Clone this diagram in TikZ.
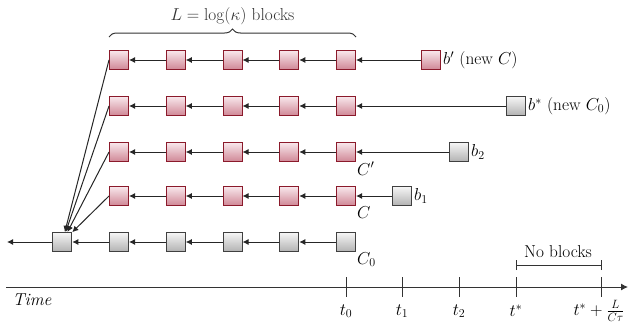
\documentclass[tikz,border=0pt]{standalone}
\usetikzlibrary{arrows.meta,decorations.pathreplacing,calc}
\definecolor{redb}{HTML}{8B1A2B}
\definecolor{redtop}{HTML}{F8E8EC}
\definecolor{redbot}{HTML}{D08796}
\definecolor{graytop}{HTML}{F6F6F6}
\definecolor{graybot}{HTML}{B2B2B2}
\tikzset{
  blk/.style={minimum size=19pt, inner sep=0pt, line width=1pt},
  redblk/.style={blk, draw=redb, top color=redtop, bottom color=redbot},
  grayblk/.style={blk, draw=black!75, top color=graytop, bottom color=graybot},
  link/.style={-{Latex[length=6pt,width=6pt]}, line width=1pt, draw=black!85},
  lbl/.style={inner sep=1pt},
  axisline/.style={line width=1pt, draw=black!80},
}
\begin{document}
\begin{tikzpicture}[x=1pt,y=-1pt,font=\LARGE]
\useasboundingbox (0,0) rectangle (628,335);
% red rows
\foreach \r/\y in {1/60,2/106,3/152,4/196}{
  \foreach \i in {1,...,5}{
    \node[redblk] (r\r-\i) at ({62.25+56.75*\i},\y) {};
  }
  \foreach \i [evaluate=\i as \j using int(\i-1)] in {2,...,5}{
    \draw[link] (r\r-\i) -- (r\r-\j);
  }
}
% gray base row
\foreach \i in {0,...,5}{
  \node[grayblk] (g-\i) at ({62.25+56.75*\i},242) {};
}
\foreach \i [evaluate=\i as \j using int(\i-1)] in {1,...,5}{
  \draw[link] (g-\i) -- (g-\j);
}
\coordinate (gl) at (7,242);
\draw[link] (g-0) -- (gl);
% tips of each row
\node[redblk] (bp) at (431,60) {};
\node[grayblk] (bs) at (516,106) {};
\node[grayblk] (b2) at (459,152) {};
\node[grayblk] (b1) at (402,196) {};
\draw[link] (bp) -- (r1-5);
\draw[link] (bs) -- (r2-5);
\draw[link] (b2) -- (r3-5);
\draw[link] (b1) -- (r4-5);
\node[lbl,anchor=west] at ($(bp.east)+(1,0)$) {$b'$ (new $C$)};
\node[lbl,anchor=west] at ($(bs.east)+(1,0)$) {$b^*$ (new $C_0$)};
\node[lbl,anchor=west] at ($(b2.east)+(1,0)$) {$b_2$};
\node[lbl,anchor=west] at ($(b1.east)+(1,0)$) {$b_1$};
\node[lbl,anchor=north west] (cp) at ($(r3-5.south east)+(0,-1)$) {$C'$};
\node[lbl,anchor=north west] (cc) at ($(r4-5.south east)+(0,-1)$) {$C$};
\node[lbl,anchor=north west] (c0) at ($(g-5.south east)+(0,-1)$) {$C_0$};
% links from red chains to the base block
\foreach \r in {1,...,4}{
  \draw[link] (r\r-1.west) -- (g-0);
}
% brace
\coordinate (brl) at (109,37);
\coordinate (brr) at (356,37);
\draw[decorate,decoration={brace,amplitude=8pt},line width=1pt,black!80] (brl) -- (brr)
  node[midway,above=11pt,lbl] (bt) {$L=\log(\kappa)$ blocks};
% time axis
\coordinate (ta) at (6,287);
\coordinate (tb) at (628,287);
\draw[axisline,-{Latex[length=7pt,width=7pt]}] (ta) -- (tb);
\node[lbl] (time) at (32,300) {\itshape Time};
\foreach \x/\t/\n in {346/{t_0}/t0,402/{t_1}/t1,459/{t_2}/t2,516/{t^*}/ts}{
  \coordinate (k\n) at (\x,287);
  \draw[axisline] ($(k\n)+(0,-10)$) -- ($(k\n)+(0,10)$);
  \node[lbl] (l\n) at (\x,311) {$\t$};
}
\coordinate (ke) at (601,287);
\draw[axisline] ($(ke)+(0,-10)$) -- ($(ke)+(0,10)$);
\node[lbl] (le) at (599,311) {$t^*+\frac{L}{C\tau}$};
% no blocks bracket
\coordinate (nb1) at (516,265);
\coordinate (nb2) at (601,265);
\draw[axisline] ($(nb1)+(0,5)$) -- ($(nb1)+(0,-5)$);
\draw[axisline] ($(nb2)+(0,5)$) -- ($(nb2)+(0,-5)$);
\draw[axisline] (nb1) -- (nb2);
\node[lbl] (nbt) at (558,252) {No blocks};
\end{tikzpicture}
\end{document}
